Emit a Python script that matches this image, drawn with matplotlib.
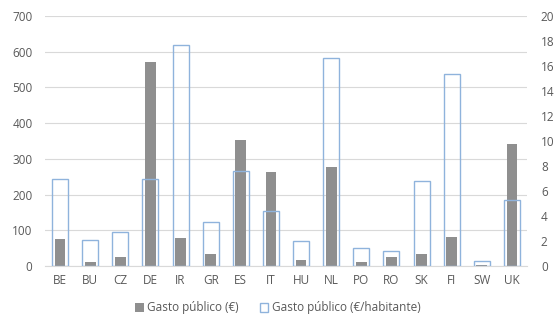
from matplotlib import pyplot as plt
import numpy as np

paises = ['BE', 'BU', 'CZ', 'DE', 'IR', 'GR', 'ES', 'IT', 'HU', 'NL', 'PO', 'RO', 'SK', 'FI', 'SW', 'UK']
gasto_total = [77, 12, 26, 572, 78, 35, 353, 262, 17, 278, 12, 24, 34, 82, 2, 342]
gasto_hab = [7.0, 2.1, 2.7, 7.0, 17.7, 3.55, 7.6, 4.4, 2.0, 16.6, 1.47, 1.22, 6.8, 15.4, 0.43, 5.3]

plt.rcParams['font.family'] = ['Open Sans', 'DejaVu Sans']
txt = '#595959'

fig = plt.figure(figsize=(5.56, 3.24), dpi=100)
ax = fig.add_axes([45 / 556, 1 - 266 / 324, 482 / 556, 250 / 324])
x = np.arange(len(paises))

ax.bar(x, gasto_total, width=0.36, color='#8f8f8f', zorder=2, label='Gasto público (€)')
ax.set_ylim(0, 700)
ax.set_yticks(range(0, 701, 100))
ax.set_xlim(-0.5, len(paises) - 0.5)
ax.set_xticks(x)
ax.set_xticklabels(paises)
ax.grid(axis='y', color='#d9d9d9', linewidth=0.8, zorder=0)
for s in ['top', 'left', 'right']:
    ax.spines[s].set_visible(False)
ax.spines['bottom'].set_color('#d9d9d9')
ax.tick_params(length=0, labelsize=8.5, colors=txt, pad=6)
ax.tick_params(axis='y', pad=9)

ax2 = ax.twinx()
ax2.bar(x, gasto_hab, width=0.53, facecolor='none', edgecolor='#8fb3dc', linewidth=1.0,
        zorder=3, label='Gasto público (€/habitante)')
ax2.set_ylim(0, 20)
ax2.set_yticks(range(0, 21, 2))
for s in ax2.spines.values():
    s.set_visible(False)
ax2.tick_params(length=0, labelsize=8.5, colors=txt, pad=10)

h1, l1 = ax.get_legend_handles_labels()
h2, l2 = ax2.get_legend_handles_labels()
fig.legend(h1 + h2, l1 + l2, loc='center', bbox_to_anchor=(0.5, 1 - 308 / 324), ncol=2,
           frameon=False, fontsize=8.5, labelcolor=txt, handlelength=0.7, handleheight=0.7,
           handletextpad=0.3, columnspacing=1.8)

plt.savefig('out.png', dpi=100)
